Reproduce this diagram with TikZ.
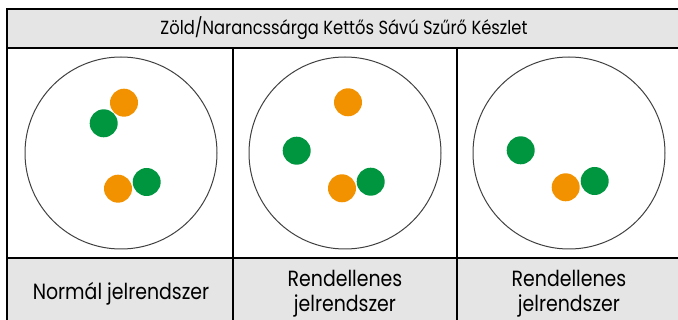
\documentclass[tikz,border=0pt]{standalone}
\usepackage{fontspec}
\setmainfont{Poppins}[FakeStretch=0.86]
\definecolor{dotorange}{HTML}{F39200}
\definecolor{dotgreen}{HTML}{00963F}
\definecolor{cellgray}{HTML}{E5E5E5}
\tikzset{
  gridline/.style={line width=2pt},
  dish/.style={draw=black!75, line width=1pt},
  titletext/.style={font=\fontsize{19}{22}\selectfont, inner sep=0pt},
  labeltext/.style={font=\fontsize{22}{25}\selectfont, inner sep=0pt, align=center}
}
\begin{document}
\begin{tikzpicture}[x=1pt,y=-1pt]
  \useasboundingbox (0,0) rectangle (678,320);
  \clip (0,0) rectangle (678,320);

  % Shade the title and label rows
  \fill[cellgray] (7,9) rectangle (690,48.5);
  \fill[cellgray] (7,258) rectangle (690,330);

  % Draw the table lines
  \draw[gridline] (6,9) -- (690,9);
  \draw[gridline] (6,48.5) -- (690,48.5);
  \draw[gridline] (6,258) -- (690,258);
  \draw[gridline] (7,9) -- (7,330);
  \draw[gridline] (233,48.5) -- (233,330);
  \draw[gridline] (457,48.5) -- (457,330);

  % Title and row labels
  \node[titletext, anchor=base] (title) at (344,35) {Zöld/Narancssárga Kettős Sávú Szűrő Készlet};
  \node[labeltext, anchor=base] (normal) at (121,300) {Normál jelrendszer};
  \node[labeltext, anchor=base] (abnormA) at (345,312) {Rendellenes\\jelrendszer};
  \node[labeltext, anchor=base] (abnormB) at (569,312) {Rendellenes\\jelrendszer};

  % Draw the dishes
  \draw[dish] (121,153) circle (96);
  \draw[dish] (345,153) circle (96);
  \draw[dish] (569,153) circle (96);

  % Plot the dots
  \fill[dotorange] (124,102.7) circle (14);
  \fill[dotgreen] (103.7,123.3) circle (14);
  \fill[dotorange] (118,188.7) circle (14);
  \fill[dotgreen] (146.7,182) circle (14);

  \fill[dotorange] (348,102.3) circle (14);
  \fill[dotgreen] (296.7,150.7) circle (14);
  \fill[dotorange] (342,188.3) circle (14);
  \fill[dotgreen] (370.7,181.7) circle (14);

  \fill[dotgreen] (520.7,150.3) circle (14);
  \fill[dotorange] (565.7,187.3) circle (14);
  \fill[dotgreen] (594.7,181) circle (14);
\end{tikzpicture}
\end{document}
